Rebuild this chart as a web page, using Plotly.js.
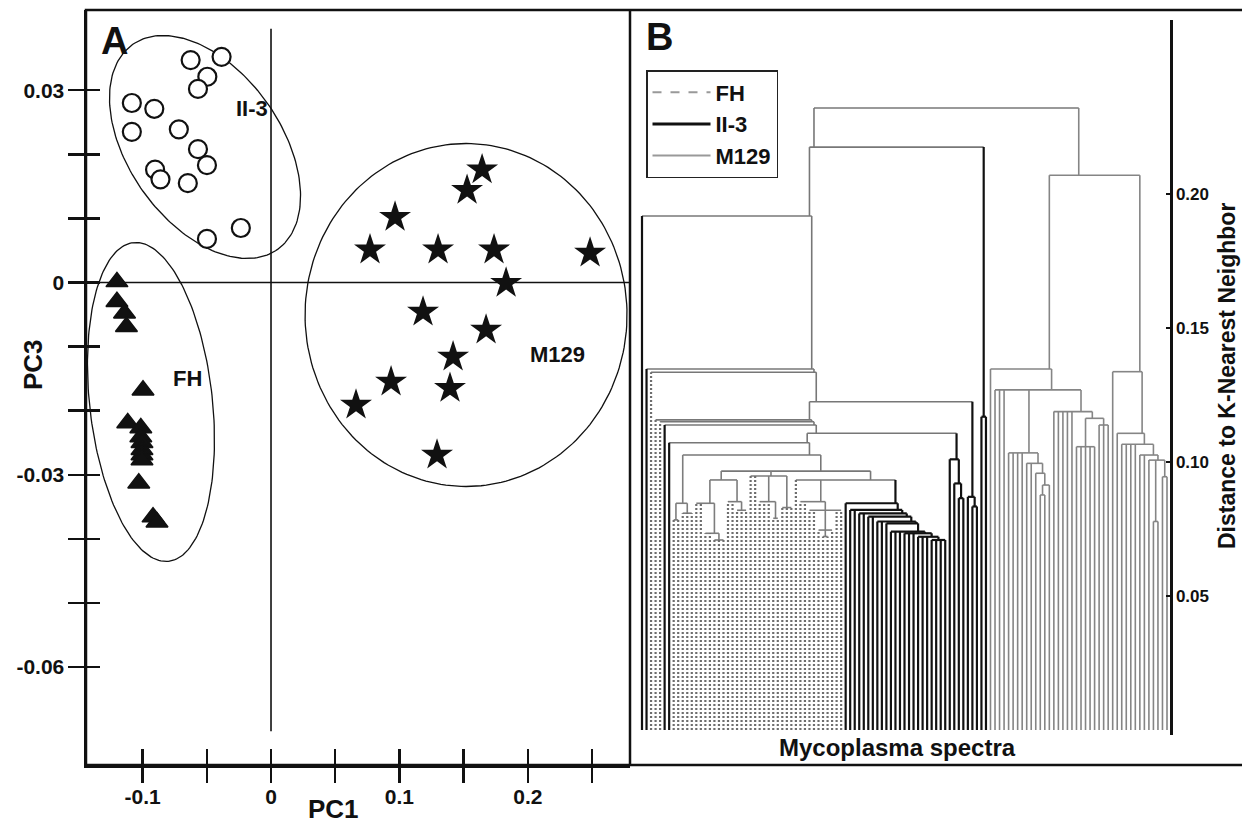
<!DOCTYPE html>
<html>
<head>
<meta charset="utf-8">
<script src="https://cdn.plot.ly/plotly-3.0.1.min.js"></script>
<style>html,body{margin:0;padding:0;background:#fff;}#chart{width:1242px;height:823px;}</style>
</head>
<body>
<div id="chart"></div>
<script>
// ---------------- DATA: panel A (PCA scores) ----------------
const II3_PC1 = [-0.0626,-0.0385,-0.0496,-0.0569,-0.1084,-0.0909,-0.0718,-0.1084,-0.0569,-0.0499,-0.0903,-0.0861,-0.0648,-0.0235,-0.0499];
const II3_PC3 = [0.0347,0.0352,0.0321,0.0302,0.0280,0.0271,0.0239,0.0235,0.0208,0.0183,0.0176,0.0161,0.0155,0.0085,0.0068];
const FH_PC1 = [-0.1200,-0.1200,-0.1141,-0.1126,-0.0997,-0.1116,-0.1014,-0.1014,-0.1005,-0.1005,-0.1005,-0.1005,-0.1030,-0.0919,-0.0888];
const FH_PC3 = [0.0001,-0.0030,-0.0048,-0.0069,-0.0168,-0.0219,-0.0227,-0.0241,-0.0250,-0.0261,-0.0269,-0.0277,-0.0313,-0.0366,-0.0374];
const M129_PC1 = [0.1644,0.1527,0.0966,0.0771,0.1301,0.1737,0.2485,0.1831,0.1184,0.1675,0.1418,0.0935,0.1394,0.0662,0.1293];
const M129_PC3 = [0.0176,0.0144,0.0102,0.0051,0.0051,0.0051,0.0046,-0.0001,-0.0046,-0.0074,-0.0116,-0.0155,-0.0165,-0.0191,-0.0269];
const GROUP_NAMES = ['II-3','FH','M129'];
// cluster ellipse centres (PC1, PC3) and cluster label positions
const ELLIPSE_PC1 = [-0.0514,-0.0935,0.1519];
const ELLIPSE_PC3 = [0.02114,-0.01864,-0.00507];
const LABEL_PC1 = [-0.0148,-0.0647,0.2228];
const LABEL_PC3 = [0.0272,-0.0149,-0.0113];
// tick values and labels
const PC1_TICKS = [-0.1,-0.05,0,0.05,0.1,0.15,0.2,0.25];
const PC1_LABELS = ['-0.1','','0','','0.1','','0.2',''];
const PC3_TICKS = [-0.06,-0.05,-0.04,-0.03,-0.02,-0.01,0,0.01,0.02,0.03];
const PC3_LABELS = ['-0.06','','','-0.03','','','0','','','0.03'];
const DIST_TICKS = [0.05,0.10,0.15,0.20];
const DIST_LABELS = ['0.05','0.10','0.15','0.20'];
// reference (origin) lines extent
const ORIGIN_VLINE_PC3 = [0.0396,-0.0700];

// ---------------- DATA: panel B (dendrogram, [height, child, child, ...]; leaves F / I / M) ----------------
const A2 = [0.1169,'I','I'];
const R_CL = [0.1010,'I',[0.0920,'I',[0.0865,'I','I']]];
const ER_CL = [0.0870,'I',[0.0834,'I','I']];
const J_CL = [0.0846,[0.0784,'F','F'],[0.0809,'F','F','F']];
const K1A = [0.0846,'F','F',[0.0734,'F','F',[0.0709,'F','F','F']]];
const K1B = [0.0852,'F','F',[0.0820,'F','F','F']];
const K3 = [0.0948,'F','F',[0.0852,'F','F','F',[0.0790,'F','F']],[0.0830,'F','F','F']];
const FH_CL = [0.0852,'F','F',[0.0820,'F','F',[0.0746,'F',[0.0722,'F','F'],'F'],'F','F']];
const II3_CL = [0.0846,'I',[0.0821,'I','I',[0.0808,'I','I',[0.0796,'I','I',[0.0778,'I','I',[0.0771,'I',[0.0740,'I','I','I',[0.0734,'I','I','I',[0.0721,'I','I','I',[0.0709,'I','I','I','I']]]]]]]]]];
const K2 = [0.0933,'F',FH_CL,II3_CL];
const K_CL = [0.0966,[0.0933,K1A,K1B],K3,K2];
const G7 = [0.1026,J_CL,K_CL];
const G6 = [0.1072,'I',G7];
const P_CL = [0.1107,G6,R_CL];
const X3 = [0.1138,'I',P_CL];
const X2 = [0.1150,'F',X3];
const X1 = [0.1157,'F',X2];
const E_CL = [0.1225,X1,ER_CL];
const D_CL = [0.1335,'F',E_CL];
const C_CL = [0.1347,'I',D_CL];
const A1 = [0.1918,'I',C_CL];
const A_CL = [0.2175,A1,A2];
const N1 = [0.1034,'M','M','M','M',[0.0995,'M','M',[0.0958,'M',[0.0914,[0.0877,'M','M'],'M']]]];
const N2 = [0.1188,'M','M','M','M','M',[0.1163,[0.1057,'M','M','M','M','M'],[0.1138,'M','M','M']]];
const B1 = [0.1347,'M',[0.1269,'M','M','M',N1,N2]];
const B6 = [0.1026,'M','M',[0.1007,'M',[0.0778,'M','M'],[0.0945,'M','M']]];
const B3 = [0.1337,'M',[0.1107,'M',[0.1066,'M','M','M','M',B6]]];
const B_CL = [0.2070,B1,B3];
const ROOT = [0.2321,A_CL,B_CL];

// ---------------- LAYOUT GEOMETRY ----------------
const W = 1242, H = 823;
const A_PX = {x0:86, x1:630, y0:10, y1:765};
const X1_RANGE = [-0.1441, 0.2796];
const Y1_RANGE = [-0.07527, 0.04251];
const B_PX = {x0:636, x1:1170, y0:20, y1:735, leaf0:642, leafN:1167};
const Y2_RANGE = [-0.00187, 0.26493];
const px2pX = x => x / W;
const px2pY = y => 1 - y / H;
const pxPerX = (A_PX.x1 - A_PX.x0) / (X1_RANGE[1] - X1_RANGE[0]);
const pxPerY = (A_PX.y1 - A_PX.y0) / (Y1_RANGE[1] - Y1_RANGE[0]);
const ELLIPSE_SHAPE = [{a:125.5,b:76.2,tilt:35.3},{a:160.3,b:61.4,tilt:6.3},{a:171.5,b:161,tilt:0}];

const FONT = 'Liberation Sans, Arial, Helvetica, sans-serif';

// ---------------- BUILD TRACES ----------------
const traces = [];
function ellipse(cx, cy, s) {
  const p = s.tilt * Math.PI / 180;
  const mx = Math.sin(p), my = Math.cos(p), nx = Math.cos(p), ny = -Math.sin(p);
  const xs = [], ys = [];
  for (let k = 0; k <= 200; k++) {
    const t = 2 * Math.PI * k / 200;
    const u = s.a * Math.cos(t) * mx + s.b * Math.sin(t) * nx;
    const v = s.a * Math.cos(t) * my + s.b * Math.sin(t) * ny;
    xs.push(cx + u / pxPerX); ys.push(cy - v / pxPerY);
  }
  return {x: xs, y: ys};
}
for (let i = 0; i < 3; i++) {
  const e = ellipse(ELLIPSE_PC1[i], ELLIPSE_PC3[i], ELLIPSE_SHAPE[i]);
  traces.push({type:'scatter', mode:'lines', x:e.x, y:e.y, xaxis:'x', yaxis:'y',
    line:{color:'#111', width:1.3}, showlegend:false, hoverinfo:'skip'});
}
traces.push({type:'scatter', mode:'lines', x:[0,0], y:ORIGIN_VLINE_PC3, xaxis:'x', yaxis:'y',
  line:{color:'#111', width:1.6}, showlegend:false, hoverinfo:'skip'});
traces.push({type:'scatter', mode:'lines', x:X1_RANGE, y:[0,0], xaxis:'x', yaxis:'y',
  line:{color:'#111', width:1.6}, showlegend:false, hoverinfo:'skip'});
traces.push({type:'scatter', mode:'markers', name:GROUP_NAMES[0], x:II3_PC1, y:II3_PC3, xaxis:'x', yaxis:'y',
  marker:{symbol:'circle', size:18, color:'#fff', line:{color:'#111', width:2.2}}, showlegend:false});
traces.push({type:'scatter', mode:'markers', name:GROUP_NAMES[1], x:FH_PC1, y:FH_PC3, xaxis:'x', yaxis:'y',
  marker:{symbol:'triangle-up', size:19, color:'#111', line:{color:'#111', width:1.5}}, showlegend:false});
traces.push({type:'scatter', mode:'markers', name:GROUP_NAMES[2], x:M129_PC1, y:M129_PC3, xaxis:'x', yaxis:'y',
  marker:{symbol:'star', size:24, color:'#111', line:{width:0}}, showlegend:false});
// dummy for overlay tick axes
traces.push({type:'scatter', mode:'markers', x:[null], y:[null], xaxis:'x3', yaxis:'y3', showlegend:false, hoverinfo:'skip'});

// dendrogram
let leafCounter = 0;
function build(n) {
  if (typeof n === 'string') { const i = leafCounter++; return {leaf:true, g:n, x:i, h:0, xs:[i], groups:new Set([n])}; }
  const ch = n.slice(1).map(build);
  const xs = [].concat(...ch.map(c => c.xs));
  const groups = new Set(); ch.forEach(c => c.groups.forEach(g => groups.add(g)));
  return {leaf:false, h:n[0], ch, xs, x: xs.reduce((a,b)=>a+b,0)/xs.length, groups};
}
const tree = build(ROOT);
const NLEAF = leafCounter;
const pitch = (B_PX.leafN - B_PX.leaf0) / (NLEAF - 1);
const X2_RANGE = [-(B_PX.leaf0 - B_PX.x0) / pitch, (NLEAF - 1) + (B_PX.x1 - B_PX.leafN) / pitch];

const SEG = {mix:{x:[],y:[]}, M:{x:[],y:[]}, Fint:{x:[],y:[]}, Fleaf:{x:[],y:[]}, I:{x:[],y:[]}};
function styleOf(node) {
  if (node.leaf) return node.g === 'F' ? 'Fleaf' : node.g;
  if (node.groups.size === 1) { const g = [...node.groups][0]; return g === 'F' ? 'Fint' : g; }
  return 'mix';
}
function add(s, xs, ys) { SEG[s].x.push(xs[0], xs[1], null); SEG[s].y.push(ys[0], ys[1], null); }
function draw(node) {
  if (node.leaf) return;
  const s = styleOf(node);
  const cx = node.ch.map(c => c.x);
  add(s, [Math.min(...cx), Math.max(...cx)], [node.h, node.h]);
  node.ch.forEach(c => { add(styleOf(c), [c.x, c.x], [c.h, node.h]); draw(c); });
}
draw(tree);
const SEG_STYLE = {
  mix:{color:'#777', width:1.6},
  M:{color:'#858585', width:1.6},
  Fint:{color:'#7d7d7d', width:1.6},
  Fleaf:{color:'#6e6e6e', width:2.2, dash:'2px,2px'},
  I:{color:'#111', width:2.2}
};
['mix','M','Fint','Fleaf','I'].forEach(s => {
  traces.push({type:'scatter', mode:'lines', x:SEG[s].x, y:SEG[s].y, xaxis:'x2', yaxis:'y2',
    line:SEG_STYLE[s], showlegend:false, hoverinfo:'skip', connectgaps:false});
});
// legend entries
traces.push({type:'scatter', mode:'lines', name:'FH', x:[null], y:[null], xaxis:'x2', yaxis:'y2', line:{color:'#999', width:2, dash:'dash'}});
traces.push({type:'scatter', mode:'lines', name:'II-3', x:[null], y:[null], xaxis:'x2', yaxis:'y2', line:{color:'#111', width:3}});
traces.push({type:'scatter', mode:'lines', name:'M129', x:[null], y:[null], xaxis:'x2', yaxis:'y2', line:{color:'#999', width:2}});

const tickFontA = {family:FONT, size:21, color:'#111', weight:'bold'};
function label(text, x, y, size, angle) {
  return {text:'<b>'+text+'</b>', xref:'paper', yref:'paper', x:px2pX(x), y:px2pY(y), xanchor:'center', yanchor:'middle',
    textangle:angle||0, showarrow:false, borderpad:0, font:{family:FONT, size:size, color:'#111'}};
}
const annotations = [
  label('A', 114, 41, 38), label('B', 659, 37, 38),
  label('PC1', 333, 809, 26), label('PC3', 33, 365, 26, -90),
  label('Mycoplasma spectra', 897, 747, 24),
  label('Distance to K-Nearest Neighbor', 1227, 376, 23, -90)
];
for (let i = 0; i < 3; i++) {
  annotations.push({text:'<b>'+GROUP_NAMES[i]+'</b>', xref:'x', yref:'y', x:LABEL_PC1[i], y:LABEL_PC3[i],
    xanchor:'center', yanchor:'middle', showarrow:false, font:{family:FONT, size:22, color:'#111'}});
}

const layout = {
  width:W, height:H, margin:{l:0,r:0,t:0,b:0}, paper_bgcolor:'#fff', plot_bgcolor:'rgba(0,0,0,0)',
  font:{family:FONT, color:'#111'},
  showlegend:true,
  legend:{x:px2pX(646), y:px2pY(70), xanchor:'left', yanchor:'top', bgcolor:'#fff', bordercolor:'#222', borderwidth:1.5,
    font:{family:FONT, size:22, color:'#111', weight:'bold'}, tracegroupgap:0, itemwidth:58},
  xaxis:{domain:[px2pX(A_PX.x0), px2pX(A_PX.x1)], range:X1_RANGE, anchor:'y', tickmode:'array', tickvals:PC1_TICKS, ticktext:PC1_LABELS,
    ticks:'outside', ticklen:15, tickwidth:2.5, tickcolor:'#111', showline:true, linewidth:2.5, linecolor:'#111',
    showgrid:false, zeroline:false, tickfont:tickFontA, ticklabelstandoff:-4, fixedrange:true},
  yaxis:{domain:[px2pY(A_PX.y1), px2pY(A_PX.y0)], range:Y1_RANGE, anchor:'x', tickmode:'array', tickvals:PC3_TICKS, ticktext:PC3_LABELS,
    ticks:'outside', ticklen:16, tickwidth:2.5, tickcolor:'#111', showline:true, linewidth:2.5, linecolor:'#111',
    showgrid:false, zeroline:false, tickfont:tickFontA, ticklabelstandoff:-1, fixedrange:true},
  xaxis3:{overlaying:'x', anchor:'y', range:X1_RANGE, tickmode:'array', tickvals:PC1_TICKS, ticks:'inside', ticklen:16, tickwidth:2.5,
    tickcolor:'#111', showticklabels:false, showline:false, showgrid:false, zeroline:false, fixedrange:true},
  yaxis3:{overlaying:'y', anchor:'x', range:Y1_RANGE, tickmode:'array', tickvals:PC3_TICKS, ticks:'inside', ticklen:14, tickwidth:2.5,
    tickcolor:'#111', showticklabels:false, showline:false, showgrid:false, zeroline:false, fixedrange:true},
  xaxis2:{domain:[px2pX(B_PX.x0), px2pX(B_PX.x1)], range:X2_RANGE, anchor:'y2', visible:false, fixedrange:true},
  yaxis2:{domain:[px2pY(B_PX.y1), px2pY(B_PX.y0)], range:Y2_RANGE, anchor:'x2', side:'right', tickmode:'array',
    tickvals:DIST_TICKS, ticktext:DIST_LABELS, ticks:'inside', ticklen:4, tickwidth:2, tickcolor:'#111',
    showline:true, linewidth:2.5, linecolor:'#111', showgrid:false, zeroline:false,
    tickfont:{family:FONT, size:17, color:'#111', weight:'bold'}, fixedrange:true},
  shapes:[
    {type:'rect', xref:'paper', yref:'paper', x0:px2pX(A_PX.x0), x1:1.01, y0:px2pY(A_PX.y1), y1:px2pY(A_PX.y0), line:{color:'#111', width:2.5}},
    {type:'line', xref:'paper', yref:'paper', x0:px2pX(A_PX.x1), x1:px2pX(A_PX.x1), y0:px2pY(A_PX.y1), y1:px2pY(A_PX.y0), line:{color:'#111', width:2.5}}
  ],
  annotations:annotations
};
Plotly.newPlot('chart', traces, layout, {displayModeBar:false, staticPlot:true});
</script>
</body>
</html>
